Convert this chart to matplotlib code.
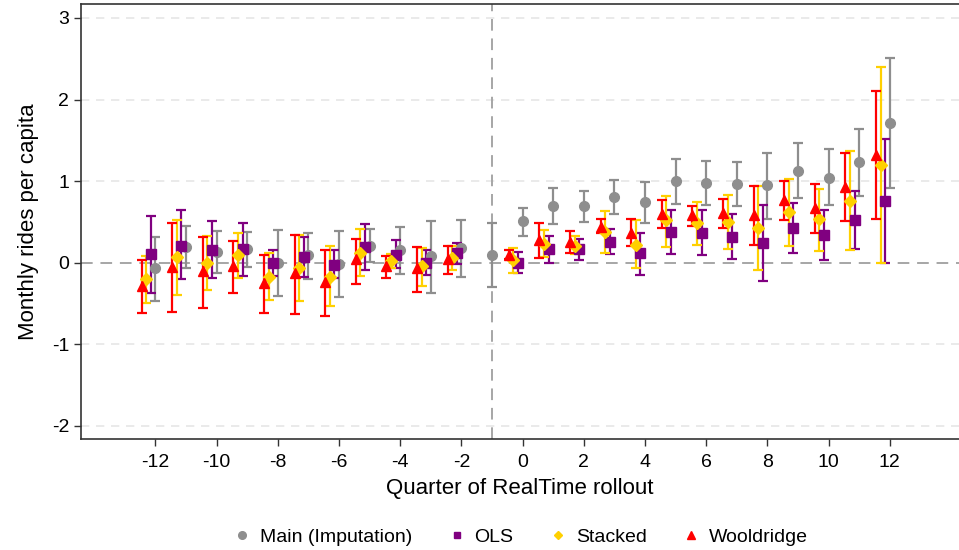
import numpy as np
import matplotlib
matplotlib.use("Agg")
import matplotlib.pyplot as plt
from matplotlib.lines import Line2D

plt.rcParams['font.family'] = ['Liberation Sans', 'DejaVu Sans']
plt.rcParams['axes.unicode_minus'] = False

# event time (quarters relative to rollout)
quarters_main = list(range(-12, 13))
quarters_alt = [q for q in range(-12, 13) if q != -1]

# Main (Imputation)
main_est = [-0.07, 0.19, 0.13, 0.17, -0.00, 0.09, -0.01, 0.21, 0.16, 0.08, 0.18, 0.09,
            0.51, 0.70, 0.69, 0.81, 0.74, 1.00, 0.98, 0.96, 0.95, 1.13, 1.04, 1.23, 1.71]
main_lo = [-0.47, -0.06, -0.13, -0.05, -0.41, -0.20, -0.42, 0.01, -0.14, -0.37, -0.17, -0.30,
           0.33, 0.48, 0.50, 0.60, 0.49, 0.72, 0.71, 0.69, 0.54, 0.79, 0.71, 0.82, 0.91]
main_hi = [0.32, 0.45, 0.39, 0.38, 0.40, 0.37, 0.39, 0.41, 0.44, 0.51, 0.52, 0.49,
           0.67, 0.91, 0.88, 1.01, 0.99, 1.27, 1.25, 1.24, 1.35, 1.47, 1.39, 1.64, 2.51]

# OLS
ols_est = [0.11, 0.21, 0.16, 0.17, -0.00, 0.07, -0.03, 0.19, 0.10, 0.00, 0.12,
           -0.00, 0.17, 0.17, 0.26, 0.12, 0.38, 0.36, 0.32, 0.24, 0.43, 0.34, 0.52, 0.76]
ols_lo = [-0.37, -0.20, -0.19, -0.16, -0.16, -0.18, -0.19, -0.09, -0.07, -0.15, -0.01,
          -0.12, 0.00, 0.03, 0.11, -0.15, 0.11, 0.09, 0.04, -0.22, 0.12, 0.03, 0.17, 0.00]
ols_hi = [0.57, 0.64, 0.51, 0.49, 0.16, 0.31, 0.15, 0.47, 0.28, 0.15, 0.24,
          0.13, 0.33, 0.29, 0.41, 0.37, 0.64, 0.64, 0.60, 0.71, 0.73, 0.64, 0.88, 1.51]

# Stacked
stk_est = [-0.20, 0.07, 0.00, 0.10, -0.17, -0.07, -0.17, 0.12, 0.02, -0.04, 0.06,
           0.03, 0.23, 0.21, 0.38, 0.22, 0.52, 0.49, 0.50, 0.42, 0.62, 0.53, 0.76, 1.20]
stk_lo = [-0.49, -0.39, -0.34, -0.19, -0.46, -0.47, -0.53, -0.16, -0.07, -0.28, -0.09,
          -0.12, 0.07, 0.11, 0.12, -0.07, 0.19, 0.22, 0.17, -0.09, 0.21, 0.14, 0.15, 0.00]
stk_hi = [0.08, 0.52, 0.33, 0.37, 0.12, 0.34, 0.20, 0.41, 0.11, 0.18, 0.21,
          0.18, 0.40, 0.33, 0.63, 0.52, 0.82, 0.75, 0.83, 0.94, 1.03, 0.90, 1.37, 2.40]

# Wooldridge
wool_est = [-0.29, -0.05, -0.10, -0.04, -0.25, -0.13, -0.24, 0.04, -0.04, -0.07, 0.04,
            0.09, 0.28, 0.26, 0.44, 0.37, 0.60, 0.59, 0.61, 0.58, 0.77, 0.67, 0.93, 1.32]
wool_lo = [-0.62, -0.60, -0.56, -0.37, -0.61, -0.63, -0.65, -0.26, -0.19, -0.36, -0.14,
           0.04, 0.06, 0.12, 0.36, 0.21, 0.43, 0.45, 0.42, 0.22, 0.52, 0.37, 0.51, 0.53]
wool_hi = [0.03, 0.49, 0.32, 0.27, 0.09, 0.34, 0.16, 0.29, 0.08, 0.19, 0.20,
           0.15, 0.49, 0.39, 0.53, 0.53, 0.77, 0.70, 0.78, 0.94, 1.00, 0.97, 1.35, 2.11]

GRAY = '#8e8e8e'
PURPLE = '#800080'
GOLD = '#ffd000'
RED = '#ff0000'

fig = plt.figure(figsize=(9.59, 5.5), dpi=100)
ax = fig.add_axes([0.0845, 0.2018, 0.9155, 0.7909])

# reference lines
for yv in [-2, -1, 1, 2, 3]:
    ax.axhline(yv, color='#e6e6e6', lw=1.2, ls=(0, (5, 4)), zorder=0)
ax.axhline(0, color='#a6a6a6', lw=1.4, ls=(0, (6, 4)), zorder=0)
ax.axvline(-1, color='#a6a6a6', lw=1.4, ls=(0, (6, 4)), zorder=0)


def draw(xs, est, lo, hi, offset, color, marker, ms):
    x = np.array(xs) + offset
    est = np.array(est)
    err = [est - np.array(lo), np.array(hi) - est]
    ax.errorbar(x, est, yerr=err, fmt=marker, color=color, ms=ms,
                elinewidth=1.6, capsize=3.5, capthick=1.6, zorder=3)


draw(quarters_main, main_est, main_lo, main_hi, 0.0, GRAY, 'o', 7)
draw(quarters_alt, ols_est, ols_lo, ols_hi, -0.15, PURPLE, 's', 6.5)
draw(quarters_alt, stk_est, stk_lo, stk_hi, -0.30, GOLD, 'D', 6)
draw(quarters_alt, wool_est, wool_lo, wool_hi, -0.45, RED, '^', 7.5)

ax.set_xlim(-14.43, 14.26)
ax.set_ylim(-2.16, 3.17)
ax.set_xticks(range(-12, 13, 2))
ax.set_yticks([-2, -1, 0, 1, 2, 3])
ax.tick_params(axis='both', labelsize=14, length=5, width=1, color='#333333')
ax.tick_params(axis='x', pad=6)
ax.set_xlabel('Quarter of RealTime rollout', fontsize=16, labelpad=5)
ax.set_ylabel('Monthly rides per capita', fontsize=16, labelpad=9)
for sp in ax.spines.values():
    sp.set_color('#333333')
    sp.set_linewidth(1.2)
ax.spines['right'].set_visible(False)

handles = [
    Line2D([], [], ls='none', marker='o', color=GRAY, ms=5.5),
    Line2D([], [], ls='none', marker='s', color=PURPLE, ms=5),
    Line2D([], [], ls='none', marker='D', color=GOLD, ms=4.5),
    Line2D([], [], ls='none', marker='^', color=RED, ms=5.5),
]
labels = ['Main (Imputation)', 'OLS', 'Stacked', 'Wooldridge']
fig.legend(handles, labels, loc='center', bbox_to_anchor=(0.542, 0.024), ncol=4,
           frameon=False, fontsize=14, handletextpad=0.35, columnspacing=1.75,
           handlelength=1.1)

fig.savefig('out.png', dpi=100)
